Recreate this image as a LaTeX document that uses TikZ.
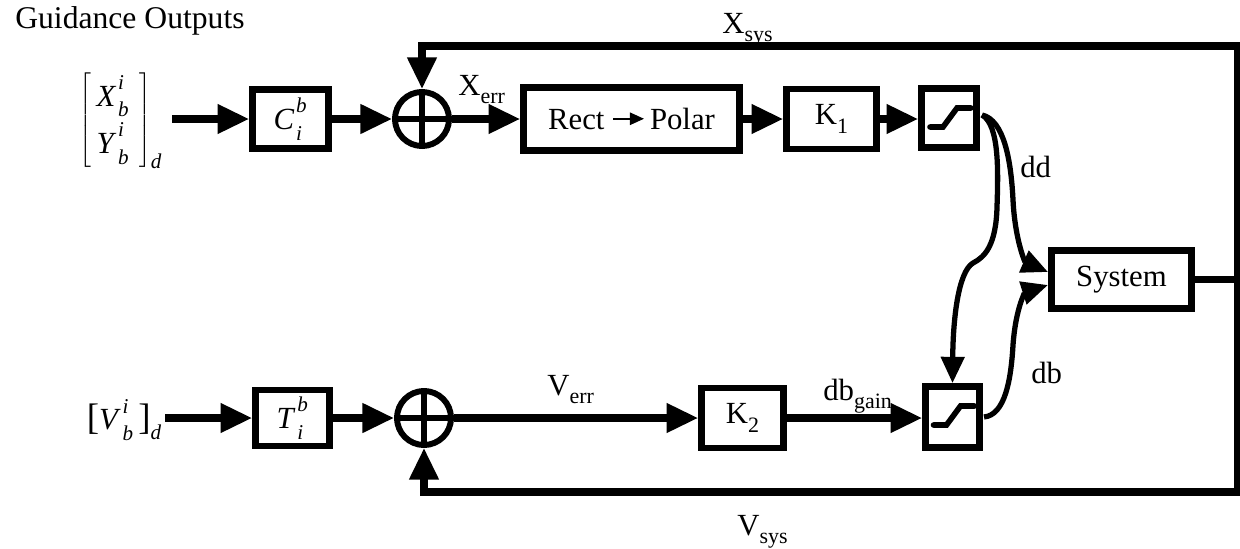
\documentclass[tikz,border=0pt]{standalone}
\usepackage{fontspec}
\setmainfont{Liberation Serif}
\usetikzlibrary{arrows.meta,calc}
\newcommand{\lsub}[2]{#1\raisebox{-0.28em}{\fontsize{12.5pt}{12.5pt}\selectfont #2}}
\newcommand{\tsup}[3]{\textit{#1}\kern1pt\rlap{\raisebox{0.55em}{\fontsize{12pt}{12pt}\selectfont\textit{#2}}}\raisebox{-0.35em}{\fontsize{12pt}{12pt}\selectfont\textit{#3}}\kern3pt}
\tikzset{
  blk/.style={draw, line width=3.8pt, inner sep=0pt, font=\fontsize{17.5pt}{21pt}\selectfont},
  sumc/.style={draw, circle, line width=3.4pt, minimum size=1.08cm, inner sep=0pt},
  conn/.style={line width=4pt, -{Triangle[length=18pt,width=16pt]}},
  plain/.style={line width=4pt},
  curv/.style={line width=3pt, -{Triangle[length=15pt,width=13pt]}},
  glyph/.style={line width=3.2pt, line cap=round},
  lbl/.style={inner sep=0pt, font=\fontsize{17.5pt}{21pt}\selectfont},
}
\begin{document}
\begin{tikzpicture}[x=0.02cm, y=-0.02cm]
\useasboundingbox (0,0) rectangle (1240,548);

% title
\node[lbl, anchor=base west, font=\fontsize{18pt}{21pt}\selectfont] (title) at (15,28) {Guidance Outputs};

% inputs
\node[lbl] (mat) at (121,121) {$\left[\vcenter{\hbox{\fontsize{17.5pt}{27pt}\selectfont\begin{tabular}{@{\,}c@{\,}}\tsup{X}{i}{b}\\ \tsup{Y}{i}{b}\end{tabular}}}\right]_{\hbox{\fontsize{12pt}{12pt}\selectfont\textit{d}}}$};
\node[lbl] (vin) at (124,420) {{\fontsize{21pt}{21pt}\selectfont[}\tsup{V}{i}{b}{\fontsize{21pt}{21pt}\selectfont]}\raisebox{-0.3em}{\fontsize{12pt}{12pt}\selectfont\textit{d}}};

% top row
\node[blk, minimum width=1.52cm, minimum height=1.17cm] (C) at (290.5,119) {\tsup{C}{b}{i}};
\node[sumc] (s1) at (422,119) {};
\node[blk, minimum width=4.32cm, minimum height=1.27cm] (rect) at (631.5,119) {Rect \tikz[baseline=-0.35em]\draw[line width=1pt,-{Triangle[length=8pt,width=7pt]}] (0cm,0cm)--(0.62cm,0cm);\,Polar};
\node[blk, minimum width=1.8cm, minimum height=1.2cm] (K1) at (831.5,119) {\lsub{K}{1}};
\node[blk, minimum width=1.1cm, minimum height=1.17cm] (sat1) at (949,118) {};

% bottom row
\node[blk, minimum width=1.48cm, minimum height=1.12cm] (T) at (292.5,418) {\tsup{T}{b}{i}};
\node[sumc] (s2) at (424,418) {};
\node[blk, minimum width=1.64cm, minimum height=1.2cm] (K2) at (742.5,418) {\lsub{K}{2}};
\node[blk, minimum width=1.08cm, minimum height=1.22cm] (sat2) at (952.5,417) {};

% system
\node[blk, minimum width=2.8cm, minimum height=1.17cm] (sys) at (1121.5,279.5) {System};

% sum crosses
\foreach \s in {s1,s2}{
  \draw[line width=3.4pt] (\s.north) -- (\s.south);
  \draw[line width=3.4pt] (\s.west) -- (\s.east);
}

% saturation glyphs
\draw[glyph] ([shift={(-19,9)}]sat1.center) -- ++(13,0) -- ++(14,-19) -- ++(14,0);
\draw[glyph] ([shift={(-19,8)}]sat2.center) -- ++(13,0) -- ++(14,-19) -- ++(14,0);

% forward connectors
\coordinate (m1) at (172,119);
\coordinate (v1) at (165,418);
\draw[conn] (m1) -- (C.west);
\draw[conn] (C.east) -- (s1.west);
\draw[conn] (s1.east) -- (rect.west);
\draw[conn] (rect.east) -- (K1.west);
\draw[conn] (K1.east) -- (K1.east -| sat1.west);

\draw[conn] (v1) -- (T.west);
\draw[conn] (T.east) -- (s2.west);
\draw[conn] (s2.east) -- (K2.west);
\draw[conn] (K2.east) -- (K2.east -| sat2.west);

% curved connectors
\coordinate (o1) at (982,115);
\coordinate (o2) at (984,417);
\draw[curv] (o1) .. controls (1004,120) and (1011,160) .. (1013,200) .. controls (1015,240) and (1025,262) .. (1048,272);
\draw[curv] (o1) .. controls (1000,125) and (998,175) .. (997,207) .. controls (996,245) and (985,257) .. (973,263) .. controls (958,272) and (953,320) .. (sat2.north);
\draw[curv] (o2) .. controls (1005,415) and (1011,380) .. (1013,345) .. controls (1016,305) and (1026,292) .. (1048,285);

% feedback
\coordinate (tr) at (1237,46);
\coordinate (br) at (1237,492);
\draw[plain] (sys.east) -- (sys.east -| tr);
\draw[conn] (sys.east -| tr) -- (tr) -| (s1.north);
\draw[conn] (sys.east -| tr) -- (br) -| (s2.south);

% signal labels
\node[lbl, anchor=base west] (xerr) at (458,95) {\lsub{X}{err}};
\node[lbl, anchor=base west] (verr) at (547,395) {\lsub{V}{err}};
\node[lbl, anchor=base west] (dbg) at (823,400) {\lsub{db}{gain}};
\node[lbl, anchor=base west] (dd) at (1020,177) {dd};
\node[lbl, anchor=base west] (db) at (1031,383) {db};
\node[lbl, anchor=base west] (xsys) at (722,33) {\lsub{X}{sys}};
\node[lbl, anchor=base west] (vsys) at (737,535) {\lsub{V}{sys}};
\end{tikzpicture}
\end{document}
